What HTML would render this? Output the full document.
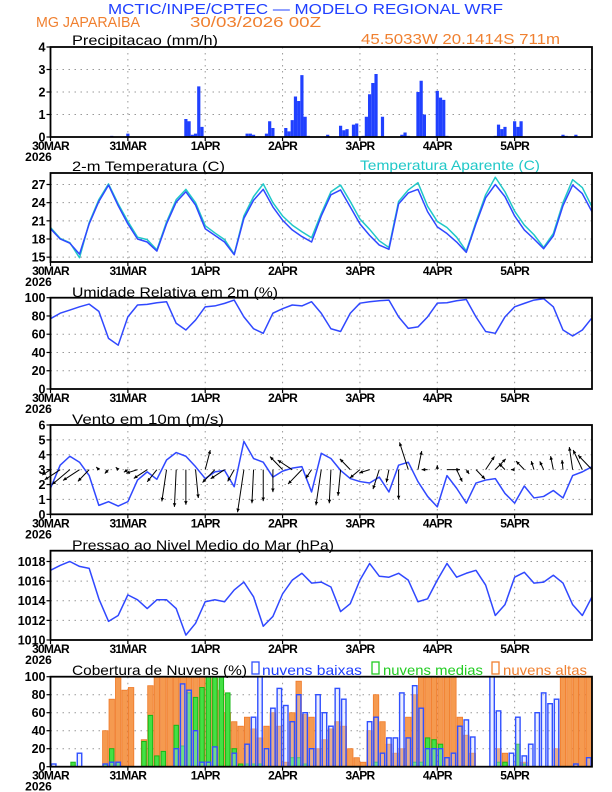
<!DOCTYPE html>
<html><head><meta charset="utf-8">
<style>
html,body{margin:0;padding:0;background:#fff;}
svg{display:block;font-family:"Liberation Sans",sans-serif;}
</style></head>
<body>
<svg id="chart" width="612" height="792" viewBox="0 0 612 792" xmlns="http://www.w3.org/2000/svg">
<rect x="0" y="0" width="612" height="792" fill="#fff"/>
<text x="108" y="14" fill="#2040ff" font-size="15" textLength="395" lengthAdjust="spacingAndGlyphs">MCTIC/INPE/CPTEC — MODELO REGIONAL WRF</text>
<text x="36" y="27" fill="#f08030" font-size="15" textLength="104" lengthAdjust="spacingAndGlyphs">MG JAPARAIBA</text>
<text x="190" y="27" fill="#f08030" font-size="15" textLength="131" lengthAdjust="spacingAndGlyphs">30/03/2026 00Z</text>
<text x="361" y="44" fill="#f08030" font-size="15" textLength="199" lengthAdjust="spacingAndGlyphs">45.5033W 20.1414S 711m</text>
<text x="72" y="45" fill="#000" font-size="14" textLength="146" lengthAdjust="spacingAndGlyphs">Precipitacao (mm/h)</text>
<text x="72" y="171" fill="#000" font-size="14" textLength="153" lengthAdjust="spacingAndGlyphs">2-m Temperatura (C)</text>
<text x="360" y="170" fill="#20c8c8" font-size="14" textLength="180" lengthAdjust="spacingAndGlyphs">Temperatura Aparente (C)</text>
<text x="72" y="297" fill="#000" font-size="14" textLength="206" lengthAdjust="spacingAndGlyphs">Umidade Relativa em 2m (%)</text>
<text x="72" y="424" fill="#000" font-size="14" textLength="152" lengthAdjust="spacingAndGlyphs">Vento em 10m (m/s)</text>
<text x="72" y="550" fill="#000" font-size="14" textLength="262" lengthAdjust="spacingAndGlyphs">Pressao ao Nivel Medio do Mar (hPa)</text>
<text x="72" y="675" fill="#000" font-size="14" textLength="175" lengthAdjust="spacingAndGlyphs">Cobertura de Nuvens (%)</text>
<rect x="252" y="662" width="7" height="12" fill="none" stroke="#3050ff" stroke-width="1.3"/>
<text x="262" y="675" fill="#2040ff" font-size="14" textLength="100" lengthAdjust="spacingAndGlyphs">nuvens baixas</text>
<rect x="372" y="662" width="7" height="12" fill="none" stroke="#22cc22" stroke-width="1.3"/>
<text x="383" y="675" fill="#22cc22" font-size="14" textLength="100" lengthAdjust="spacingAndGlyphs">nuvens medias</text>
<rect x="492" y="662" width="7" height="12" fill="none" stroke="#f08030" stroke-width="1.3"/>
<text x="503" y="675" fill="#f08030" font-size="14" textLength="84" lengthAdjust="spacingAndGlyphs">nuvens altas</text>
</svg>
<script>
// ---------- data ----------
const dayLabels = ["30MAR","31MAR","1APR","2APR","3APR","4APR","5APR"];
const precipHours = [19,24,42,43,44,45,46,47,61,62,63,67,68,69,73,74,75,76,77,78,79,80,86,90,91,92,94,95,97,98,99,100,101,103,109,110,111,114,115,116,120,121,122,123,138,139,140,141,144,145,146,159,160,163];
const precipValues = [0.05,0.15,0.8,0.7,0.1,0.15,2.25,0.45,0.15,0.15,0.1,0.15,0.7,0.4,0.4,0.25,0.75,1.8,1.6,2.75,0.9,0.05,0.1,0.5,0.3,0.35,0.55,0.6,0.05,0.9,1.9,2.4,2.8,0.9,0.1,0.2,0.05,2.0,2.5,1.0,2.05,1.75,1.65,0.05,0.05,0.55,0.35,0.45,0.7,0.45,0.7,0.1,0.05,0.1];
// 3-hourly series (h = 0,3,...,168)
const tempValues = [19.7,18.0,17.3,15.5,20.5,24.2,26.9,23.5,20.5,18.0,17.5,16.0,20.5,24.1,25.8,23.6,19.7,18.6,17.5,15.4,21.4,24.4,26.2,23.3,21.1,19.5,18.4,17.5,21.8,25.3,26.1,23.3,20.5,18.6,17.0,16.3,23.8,25.6,26.2,22.5,20.0,18.9,17.5,15.8,20.5,24.8,27.0,25.0,21.8,19.5,18.0,16.4,18.5,23.5,26.9,25.5,22.5];
const apparentValues = [19.9,18.1,17.4,14.9,20.7,24.5,27.1,23.8,20.9,18.3,17.9,16.2,20.8,24.5,26.2,24.0,20.2,19.0,17.9,15.5,21.8,25.0,27.1,24.0,21.8,20.3,19.2,18.2,22.2,25.8,26.9,24.2,21.3,19.6,17.7,16.6,24.2,26.1,27.3,23.4,20.9,19.9,18.3,16.0,20.8,25.3,28.2,25.8,22.6,20.3,18.7,16.6,18.9,24.0,27.8,26.5,23.3];
const rhValues = [77,83,86.5,90,93,85,55.5,48,79,92,92.7,94.5,95.6,72,64.6,75.5,90,91,93.8,97.4,79,66,61,83,88,92,91,95.6,83,66,63,83,94,95.6,96.7,97.4,79,66.4,68,79,94,94.5,96.7,98,79,63,61,79,90,93.8,97.4,98.9,90,64.6,58,64.6,78];
const windSpeed = [1.75,3.3,3.9,3.5,2.6,0.6,0.85,0.55,0.85,2.3,2.85,2.35,3.65,4.15,3.9,3.2,2.4,2.85,2.95,1.85,4.9,3.75,3.5,2.5,2.9,3.1,3.2,1.5,4.1,3.75,2.95,2.4,2.2,2.1,2.5,1.5,3.3,3.5,2.2,1.2,0.5,2.6,1.75,0.75,2.1,2.3,2.4,1.4,0.75,1.9,1.1,1.2,1.6,1.1,2.6,2.85,3.2];
const windDir = [250,250,245,250,240,300,240,300,250,260,250,235,195,185,180,170,25,240,250,225,195,185,180,180,300,290,240,230,195,185,190,300,245,260,210,200,180,330,20,270,0,90,140,130,120,50,60,300,270,300,330,320,340,350,345,320,300];
const pressureValues = [1017.1,1017.6,1018.0,1017.5,1017.3,1014.2,1011.9,1012.5,1014.6,1014.1,1013.2,1014.1,1014.1,1013.2,1010.5,1011.7,1013.9,1014.1,1013.9,1015.1,1015.9,1014.4,1011.4,1012.4,1014.7,1016.1,1016.8,1015.8,1015.9,1015.4,1012.9,1013.7,1016.1,1017.8,1016.5,1016.4,1016.8,1016.1,1013.9,1014.2,1016.1,1017.8,1016.4,1016.8,1017.1,1015.6,1012.5,1013.6,1016.4,1016.9,1015.8,1015.9,1016.6,1015.8,1013.6,1012.5,1014.4];
// 2-hourly cloud cover (h = 0,2,...,166)
const cloudHigh = [0,0,0,0,0,0,0,0,40,75,100,85,88,0,30,90,100,100,100,100,100,100,100,100,100,98,85,60,50,45,55,42,32,45,60,45,5,60,95,58,55,20,30,42,50,45,20,10,5,40,80,50,25,15,20,55,80,100,100,100,100,100,100,55,35,15,0,0,0,20,15,0,5,5,0,0,0,0,20,100,100,100,100,100];
const cloudLow = [3,0,0,0,15,0,0,0,3,5,5,0,0,0,0,0,0,0,0,20,92,85,40,5,5,22,0,0,15,0,25,55,100,20,65,87,68,50,80,60,20,80,60,45,87,75,0,0,0,50,55,15,32,32,82,32,90,65,20,20,20,10,15,45,52,33,0,0,100,62,0,15,55,12,25,60,82,70,75,0,0,3,0,10];
const cloudMid = [0,0,0,5,0,0,0,0,3,20,5,0,0,0,28,57,12,17,0,46,23,82,77,88,100,100,100,82,20,3,3,3,3,0,0,0,0,10,10,3,0,0,0,0,0,0,0,0,0,0,5,0,0,0,0,0,5,5,32,30,25,0,0,0,0,0,0,0,0,5,5,0,25,3,0,0,0,0,0,0,0,0,0,0];

// ---------- layout ----------
const NS = "http://www.w3.org/2000/svg";
const svg = document.getElementById("chart");
const X0 = 50.5, X1 = 592, HOURS = 168;
function xs(h){ return X0 + (X1 - X0) * h / HOURS; }
const panels = {
  precip:{top:47,bottom:137,min:0,max:4,ticks:[0,1,2,3,4]},
  temp:{top:173,bottom:262,min:14.2,max:28.9,ticks:[15,18,21,24,27]},
  rh:{top:297.7,bottom:389,min:0,max:100,ticks:[0,20,40,60,80,100]},
  wind:{top:425,bottom:514.3,min:0,max:6,ticks:[0,1,2,3,4,5,6]},
  pres:{top:550.7,bottom:640,min:1010,max:1019.1,ticks:[1010,1012,1014,1016,1018]},
  cloud:{top:676.7,bottom:766.7,min:0,max:100,ticks:[0,20,40,60,80,100]}
};
function yScale(p){ return v => p.bottom - (v - p.min) / (p.max - p.min) * (p.bottom - p.top); }
function mk(tag, attrs, parent){
  const el = document.createElementNS(NS, tag);
  for (const k in attrs) el.setAttribute(k, attrs[k]);
  (parent || svg).appendChild(el);
  return el;
}

function drawAxes(key, p){
  const ys = yScale(p);
  const g = mk("g", {});
  
  
  p.ticks.forEach(t => {
    const y = ys(t);
    const gl = mk("line", {x1:X0, x2:X1, y1:y, y2:y, stroke:"#999", "stroke-width":1, "stroke-dasharray":"1.5,4.5"}, g);
    
    
    const tk = mk("line", {x1:X0-4, x2:X0, y1:y, y2:y, stroke:"#000", "stroke-width":1.2}, g);
    
    
    const tx = mk("text", {x:X0-5, y:y+4.5, "text-anchor":"end", "font-size":12.5, "font-weight":"bold", fill:"#000"}, g);
    tx.textContent = String(t);
    
    
  });
  dayLabels.forEach((d, i) => {
    const x = xs(i * 24);
    if (i > 0) {
      const gl = mk("line", {x1:x, x2:x, y1:p.top, y2:p.bottom, stroke:"#999", "stroke-width":1, "stroke-dasharray":"1.5,4.5"}, g);
      
      
    }
    const tk = mk("line", {x1:x, x2:x, y1:p.bottom, y2:p.bottom+4, stroke:"#000", "stroke-width":1.2}, g);
    
    
    const tx = mk("text", {x:x, y:p.bottom+13, "text-anchor":"middle", "font-size":12, "font-weight":"bold", fill:"#000", "letter-spacing":"-0.8"}, g);
    tx.textContent = d;
    
    
  });
  const yr = mk("text", {x:X0-12, y:p.bottom+24, "text-anchor":"middle", "font-size":12, "font-weight":"bold", fill:"#000"}, g);
  yr.textContent = "2026";
  
  
  return g;
}
function drawFrame(key, p){
  const fr = mk("rect", {x:X0, y:p.top, width:X1-X0, height:p.bottom-p.top, fill:"none", stroke:"#000", "stroke-width":1.8});
  
  
}
function drawLine(key, p, values, step, color, name){
  const ys = yScale(p);
  const pts = values.map((v, i) => xs(i * step).toFixed(2) + "," + ys(v).toFixed(2)).join(" ");
  const pl = mk("polyline", {points:pts, fill:"none", stroke:color, "stroke-width":1.5, "stroke-linejoin":"round"});
  
  
}

for (const k in panels) drawAxes(k, panels[k]);

// precipitation bars
(function(){
  const p = panels.precip, ys = yScale(p);
  precipHours.forEach((h, i) => {
    const x = xs(h) - 1.6, y = ys(precipValues[i]);
    const r = mk("rect", {x:x, y:y, width:3.2, height:Math.max(p.bottom - y, 0.5), fill:"#2040ff"});
    
    
  });
})();

drawLine("temp", panels.temp, apparentValues, 3, "#20c8c8", "apparent-temp-line");
drawLine("temp", panels.temp, tempValues, 3, "#3048ff", "temp-line");
drawLine("rh", panels.rh, rhValues, 3, "#3048ff", "rh-line");
drawLine("wind", panels.wind, windSpeed, 3, "#3048ff", "wind-speed-line");
drawLine("pres", panels.pres, pressureValues, 3, "#3048ff", "pressure-line");

// wind vectors
(function(){
  const p = panels.wind, ys = yScale(p), y0 = ys(3);
  windDir.forEach((d, i) => {
    const s = windSpeed[i], a = d * Math.PI / 180;
    const x0 = xs(i * 3);
    const x1 = x0 + Math.sin(a) * s * 5, y1 = y0 - Math.cos(a) * s * 9;
    const g = mk("g", {});
    
    
    mk("line", {x1:x0, y1:y0, x2:x1, y2:y1, stroke:"#000", "stroke-width":1}, g);
    const ang = Math.atan2(y1 - y0, x1 - x0), hl = 4;
    const p1 = [x1 - hl*Math.cos(ang - 0.45), y1 - hl*Math.sin(ang - 0.45)];
    const p2 = [x1 - hl*Math.cos(ang + 0.45), y1 - hl*Math.sin(ang + 0.45)];
    mk("polygon", {points:`${x1},${y1} ${p1[0]},${p1[1]} ${p2[0]},${p2[1]}`, fill:"#000"}, g);
  });
})();

// cloud bars
(function(){
  const p = panels.cloud, ys = yScale(p), w = xs(2) - xs(0);
  cloudHigh.forEach((v, i) => {
    if (v <= 0) return;
    const x = xs(i * 2), y = ys(v);
    const r = mk("rect", {x:x+0.5, y:y, width:w-1, height:p.bottom-y, fill:"#f59a50", stroke:"#f07a28", "stroke-width":0.8});
    
    
  });
  cloudMid.forEach((v, i) => {
    if (v <= 0) return;
    const x = xs(i * 2), y = ys(v);
    const r = mk("rect", {x:x+1, y:y, width:w-2, height:p.bottom-y, fill:"#44e044", stroke:"#18b818", "stroke-width":1});
    
    
  });
  cloudLow.forEach((v, i) => {
    if (v <= 0) return;
    const x = xs(i * 2), y = ys(v);
    const r = mk("rect", {x:x+1, y:y, width:w-2, height:p.bottom-y, fill:"rgba(200,210,255,0.35)", stroke:"#3050ff", "stroke-width":1.4});
    
    
  });
})();

for (const k in panels) drawFrame(k, panels[k]);
</script>
</body></html>
